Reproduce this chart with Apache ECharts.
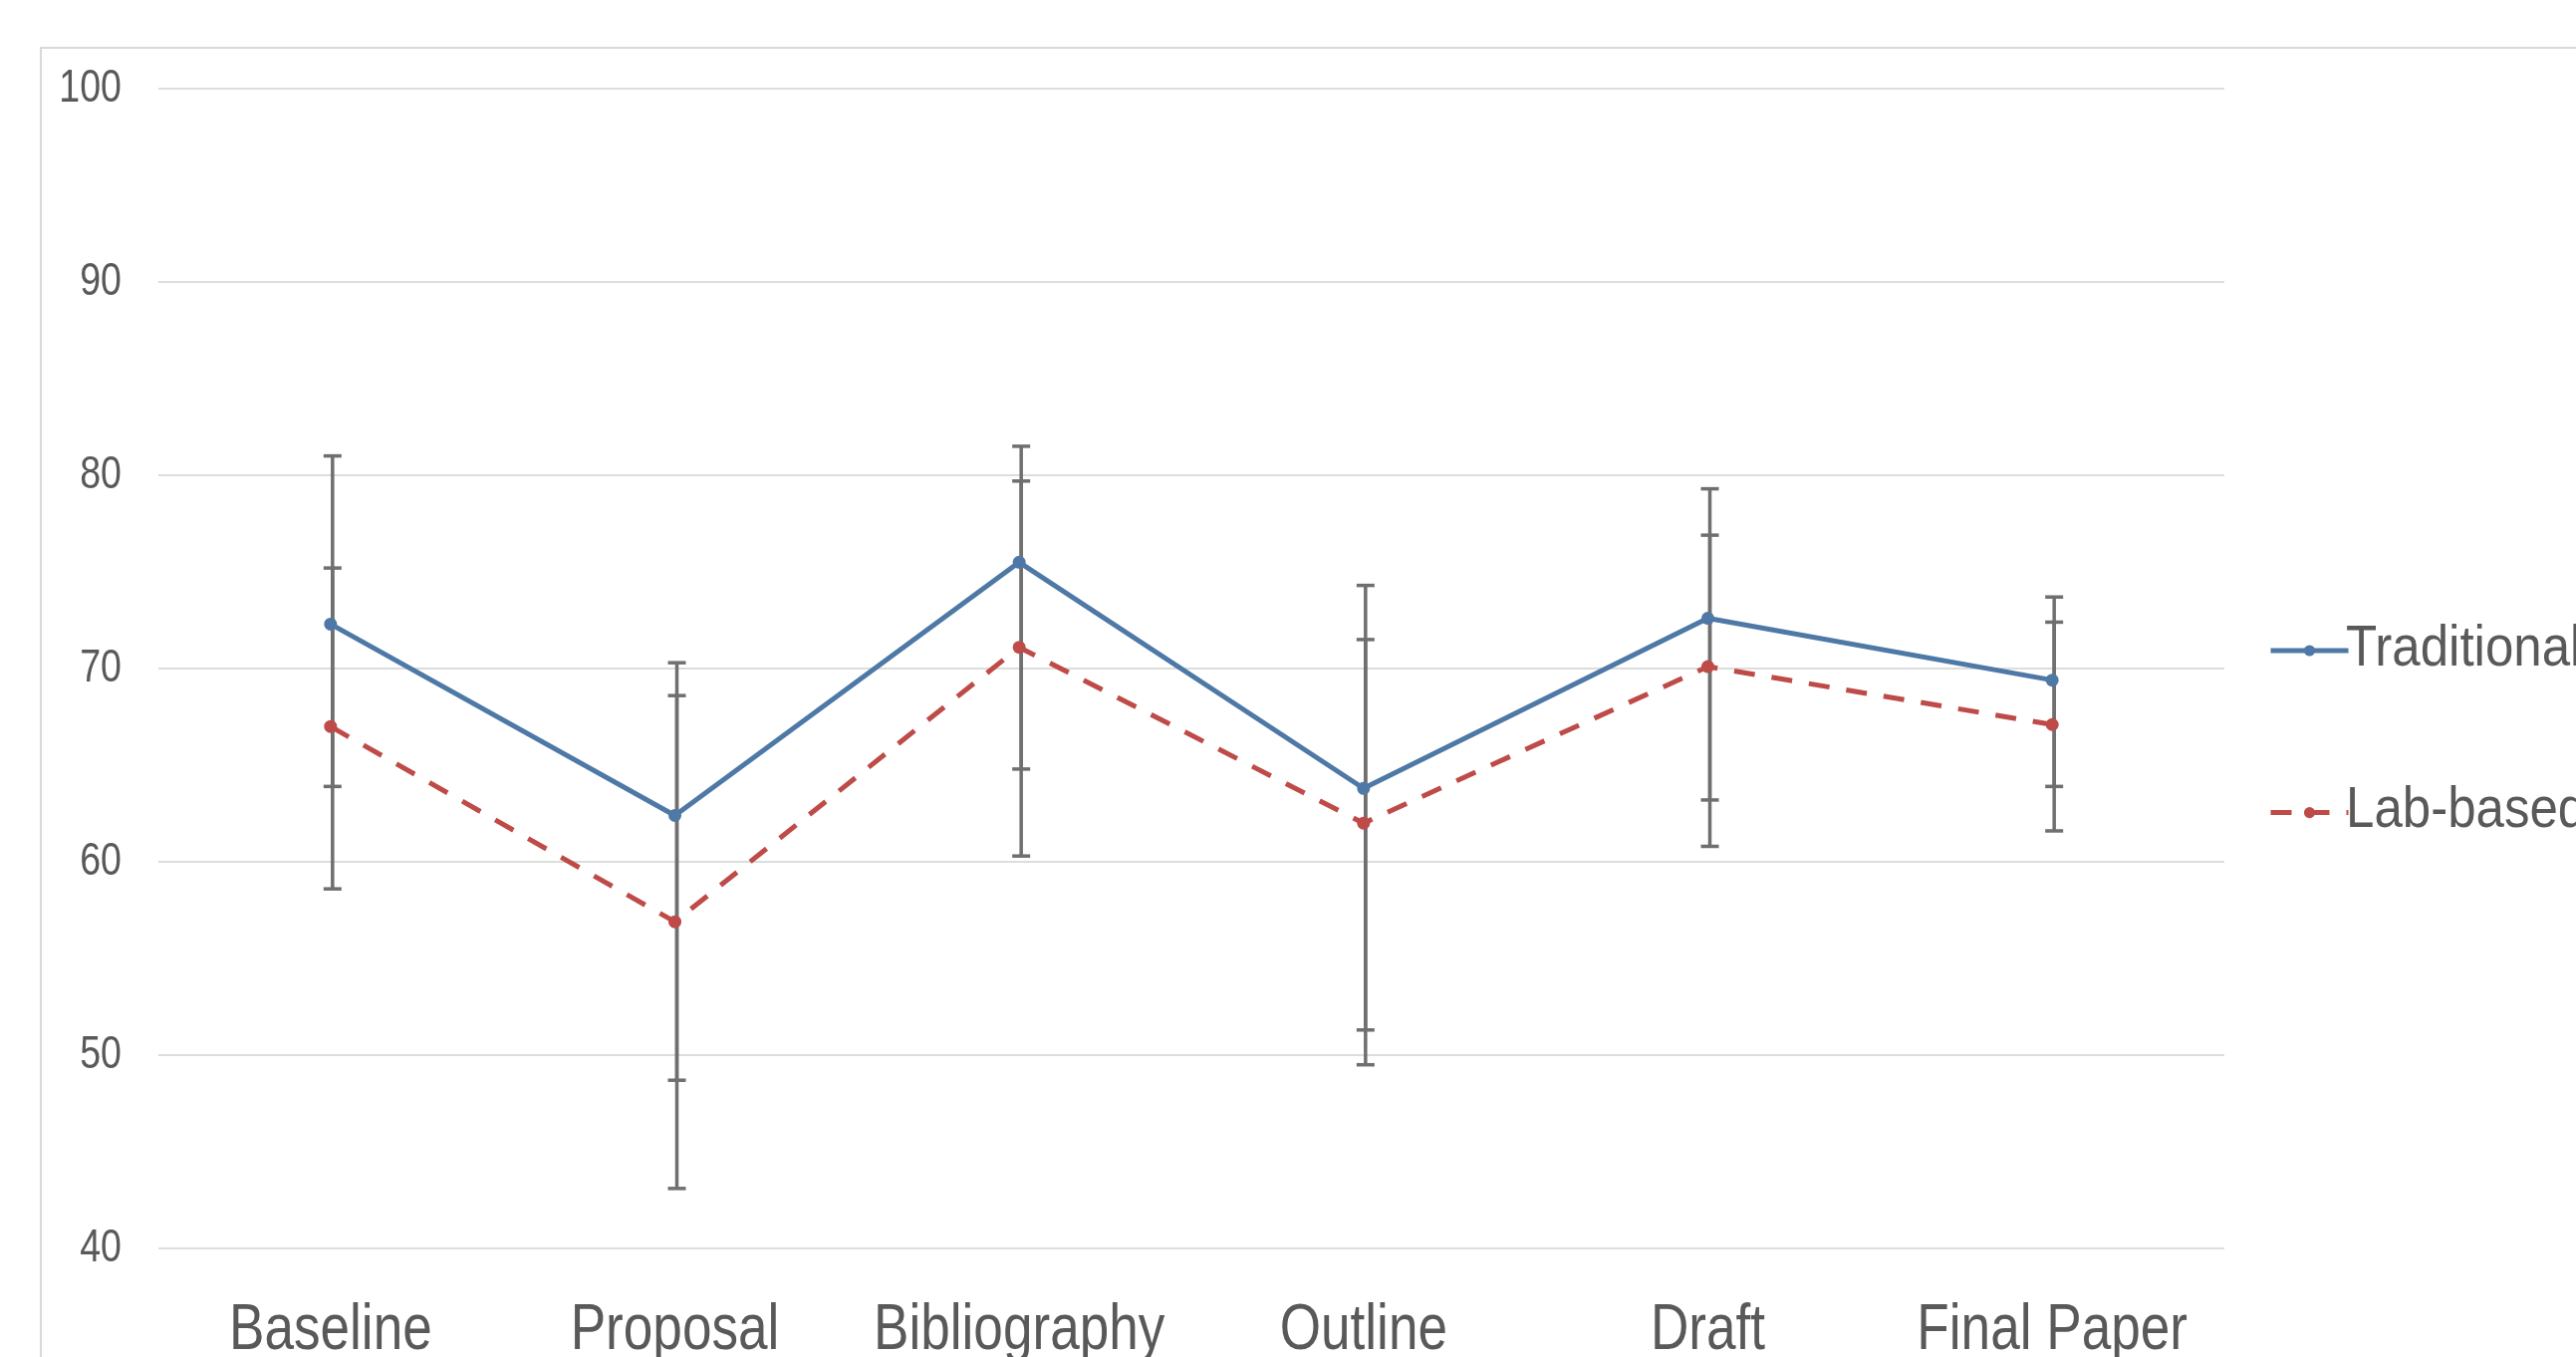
<!DOCTYPE html>
<html>
<head>
<meta charset="utf-8">
<script src="https://cdn.jsdelivr.net/npm/echarts@6/dist/echarts.min.js"></script>
<style>
html,body{margin:0;padding:0;background:#fff;}
#chart{width:2586px;height:1362px;}
</style>
</head>
<body>
<div id="chart"></div>
<script>
const categories = ['Baseline', 'Proposal', 'Bibliography', 'Outline', 'Draft', 'Final Paper'];
const seriesNames = ['Traditional', 'Lab-based'];
const traditional = [72.3, 62.4, 75.5, 63.8, 72.6, 69.4];
const labBased = [67.0, 56.9, 71.1, 62.0, 70.1, 67.1];
const traditionalUpper = [81.0, 70.3, 81.5, 74.3, 79.3, 73.7];
const traditionalLower = [63.9, 48.7, 64.8, 51.3, 63.2, 63.9];
const labUpper = [75.2, 68.6, 79.7, 71.5, 76.9, 72.4];
const labLower = [58.6, 43.1, 60.3, 49.5, 60.8, 61.6];
const yTickValues = [40, 50, 60, 70, 80, 90, 100];
const yMin = 40, yMax = 100, yStep = 10;

const FONT = '"Liberation Sans", Arial, sans-serif';
const TEXT = '#595959';
const BLUE = '#4E79A6';
const RED = '#BE4B48';
const ERR = '#6f6f6f';

function errData(lower, upper) {
  return categories.map((c, i) => [i, lower[i], upper[i]]);
}
function renderErr(params, api) {
  const x = api.value(0);
  const lo = api.coord([x, api.value(1)]);
  const hi = api.coord([x, api.value(2)]);
  const cx = lo[0] + 2;
  const half = 9;
  const st = { stroke: ERR, lineWidth: 3.5, fill: null };
  return {
    type: 'group',
    children: [
      { type: 'line', shape: { x1: cx, y1: hi[1], x2: cx, y2: lo[1] }, style: st },
      { type: 'line', shape: { x1: cx - half, y1: hi[1], x2: cx + half, y2: hi[1] }, style: st },
      { type: 'line', shape: { x1: cx - half, y1: lo[1], x2: cx + half, y2: lo[1] }, style: st }
    ]
  };
}

const chart = echarts.init(document.getElementById('chart'));
chart.setOption({
  animation: false,
  backgroundColor: '#fff',
  textStyle: { fontFamily: FONT },
  grid: { left: 159, right: 353, top: 89, bottom: 109, containLabel: false },
  legend: {
    orient: 'vertical',
    left: 2272,
    top: 641,
    itemWidth: 78,
    itemHeight: 14,
    itemGap: 150,
    data: seriesNames,
    formatter: function () { return ''; },
    lineStyle: { width: 5 },
    textStyle: { fontSize: 14, color: TEXT }
  },
  xAxis: {
    type: 'category',
    data: categories,
    boundaryGap: true,
    axisLine: { show: false },
    axisTick: { show: false },
    axisLabel: { show: false },
    splitLine: { show: false }
  },
  yAxis: {
    type: 'value',
    min: yMin, max: yMax, interval: yStep,
    axisLine: { show: false },
    axisTick: { show: false },
    axisLabel: { show: false },
    splitLine: { show: true, lineStyle: { color: '#dcdedb', width: 2 } }
  },
  series: [
    {
      name: 'Traditional Error', type: 'custom', z: 1,
      renderItem: renderErr, encode: { x: 0, y: [1, 2] },
      data: errData(traditionalLower, traditionalUpper)
    },
    {
      name: 'Lab-based Error', type: 'custom', z: 1,
      renderItem: renderErr, encode: { x: 0, y: [1, 2] },
      data: errData(labLower, labUpper)
    },
    {
      name: seriesNames[0], type: 'line', z: 3,
      data: traditional,
      symbol: 'circle', symbolSize: 13,
      itemStyle: { color: BLUE },
      lineStyle: { color: BLUE, width: 5 }
    },
    {
      name: seriesNames[1], type: 'line', z: 3,
      data: labBased,
      symbol: 'circle', symbolSize: 13,
      itemStyle: { color: RED },
      lineStyle: { color: RED, width: 5, type: [21, 17] }
    }
  ]
});

// Condensed text labels (the reference uses a narrow face), placed via the axes
const graphics = [{
  id: 'frame', type: 'rect', silent: true, z: -10,
  shape: { x: 41, y: 48, width: 2700, height: 1500 },
  style: { fill: null, stroke: '#d9d9d9', lineWidth: 2 }
}];
categories.forEach((c, i) => {
  const px = chart.convertToPixel({ xAxisIndex: 0 }, c);
  graphics.push({
    id: 'xl' + i, type: 'text', silent: true, z: 10,
    x: px, y: 1336, scaleX: 0.83,
    style: { text: c, fontFamily: FONT, fontSize: 64, fill: TEXT, align: 'center', verticalAlign: 'middle' }
  });
});
yTickValues.forEach((v, i) => {
  const py = chart.convertToPixel({ yAxisIndex: 0 }, v);
  graphics.push({
    id: 'yl' + i, type: 'text', silent: true, z: 10,
    x: 122, y: py, scaleX: 0.80,
    style: { text: String(v), fontFamily: FONT, fontSize: 47, fill: TEXT, align: 'right', verticalAlign: 'middle' }
  });
});
const legendTextY = [652, 814];
seriesNames.forEach((n, i) => {
  graphics.push({
    id: 'lg' + i, type: 'text', silent: true, z: 10,
    x: 2355, y: legendTextY[i], scaleX: 0.88,
    style: { text: n, fontFamily: FONT, fontSize: 58, fill: TEXT, align: 'left', verticalAlign: 'middle' }
  });
});
chart.setOption({ graphic: graphics });
</script>
</body>
</html>
